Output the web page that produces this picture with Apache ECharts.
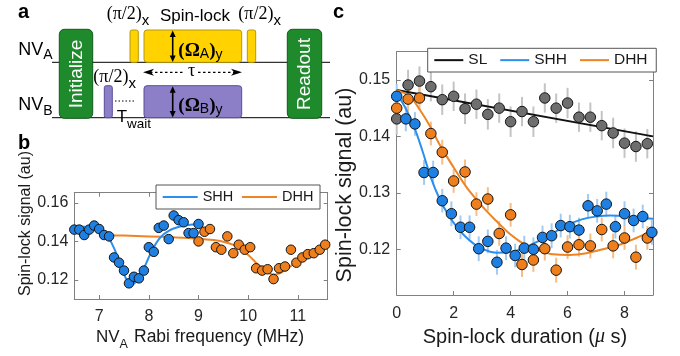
<!DOCTYPE html>
<html><head><meta charset="utf-8">
<script src="https://cdn.jsdelivr.net/npm/echarts@6/dist/echarts.min.js"></script>
<style>html,body{margin:0;padding:0;background:#fff}#chart{width:680px;height:356px}</style>
</head><body><div id="chart"></div>
<script>
// ---------- Panel b data ----------
const bShhX = [6.5,6.6,6.7,6.8,6.9,7.0,7.1,7.2,7.3,7.4,7.5,7.6,7.7,7.8,7.9,8.0,8.1,8.2,8.3,8.4,8.5,8.6,8.7,8.8,8.9,9.0];
const bShhY = [0.1461,0.1461,0.1433,0.1461,0.1482,0.1464,0.1433,0.1426,0.1317,0.1290,0.1249,0.1183,0.1217,0.1209,0.1249,0.1370,0.1346,0.1470,0.1482,0.1412,0.1534,0.1510,0.1499,0.1443,0.1443,0.1490];
const bDhhX = [9.00,9.12,9.23,9.35,9.46,9.58,9.70,9.81,9.93,10.04,10.16,10.28,10.39,10.51,10.62,10.74,10.86,10.97,11.09,11.20,11.32,11.44,11.55];
const bDhhY = [0.1400,0.1450,0.1464,0.1370,0.1357,0.1426,0.1339,0.1383,0.1357,0.1370,0.1261,0.1249,0.1256,0.1205,0.1261,0.1270,0.1357,0.1290,0.1317,0.1334,0.1339,0.1357,0.1383];
const bShhFitX = [6.5,6.7,6.9,7.0,7.1,7.2,7.3,7.4,7.5,7.55,7.6,7.65,7.7,7.8,7.9,8.0,8.1,8.2,8.3,8.4,8.5,8.7,9.0];
const bShhFitY = [0.1478,0.1476,0.1470,0.1462,0.1446,0.1415,0.1365,0.1300,0.1232,0.1203,0.1184,0.1177,0.1181,0.1210,0.1260,0.1318,0.1370,0.1410,0.1437,0.1455,0.1467,0.1481,0.1490];
const bDhhFitX = [7.1,7.5,8.0,8.5,9.0,9.3,9.5,9.7,9.9,10.0,10.1,10.2,10.3,10.4,10.5,10.6,10.7,10.8,10.9,11.0,11.2,11.4,11.6];
const bDhhFitY = [0.1432,0.1430,0.1426,0.1421,0.1414,0.1407,0.1398,0.1382,0.1350,0.1330,0.1305,0.1278,0.1255,0.1238,0.1229,0.1232,0.1245,0.1262,0.1280,0.1297,0.1328,0.1356,0.1382];
const bXTicks = [7,8,9,10,11];
const bYTicks = [0.12,0.14,0.16];

// ---------- Panel c data ----------
const cSlX = [0,0.4,0.8,1.2,1.6,2.0,2.4,2.8,3.2,3.6,4.0,4.4,4.8,5.2,5.6,6.0,6.4,6.8,7.2,7.6,8.0,8.4,8.8];
const cSlY = [0.1431,0.1491,0.1498,0.1488,0.1465,0.1471,0.1449,0.1457,0.1439,0.1450,0.1426,0.1444,0.1426,0.1468,0.1450,0.1459,0.1434,0.1434,0.1419,0.1406,0.1388,0.1382,0.1387];
const cSlErr = [0.0028,0.0027,0.0026,0.0026,0.0027,0.0026,0.0027,0.0026,0.0027,0.0026,0.0027,0.0026,0.0027,0.0026,0.0026,0.0027,0.0026,0.0026,0.0026,0.0027,0.0026,0.0027,0.0026];
const cShhX = [0,0.32,0.64,0.96,1.28,1.60,1.92,2.24,2.56,2.88,3.20,3.52,3.84,4.16,4.48,4.80,5.12,5.44,5.76,6.08,6.40,6.72,7.04,7.36,7.68,8.00,8.32,8.64,8.96];
const cShhY = [0.1471,0.1431,0.1422,0.1336,0.1336,0.1286,0.1263,0.1239,0.1239,0.1201,0.1214,0.1177,0.1202,0.1189,0.1202,0.1200,0.1221,0.1224,0.1242,0.1240,0.1234,0.1277,0.1268,0.1280,0.1240,0.1263,0.1251,0.1258,0.1230];
const cShhErr = [0.0022,0.0022,0.0021,0.0022,0.0021,0.0021,0.0022,0.0021,0.0021,0.0022,0.0021,0.0022,0.0021,0.0021,0.0022,0.0021,0.0021,0.0022,0.0021,0.0021,0.0022,0.0021,0.0021,0.0022,0.0021,0.0022,0.0021,0.0021,0.0022];
const cDhhX = [0,0.4,0.8,1.2,1.6,2.0,2.4,2.8,3.2,3.6,4.0,4.4,4.8,5.2,5.6,6.0,6.4,6.8,7.2,7.6,8.0,8.4,8.8];
const cDhhY = [0.1450,0.1466,0.1468,0.1405,0.1372,0.1321,0.1337,0.1280,0.1289,0.1228,0.1261,0.1173,0.1181,0.1201,0.1163,0.1204,0.1208,0.1206,0.1235,0.1206,0.1220,0.1186,0.1220];
const cDhhErr = [0.0021,0.0022,0.0021,0.0021,0.0022,0.0021,0.0022,0.0021,0.0021,0.0022,0.0021,0.0022,0.0021,0.0021,0.0022,0.0021,0.0021,0.0022,0.0021,0.0022,0.0021,0.0022,0.0021];
const cSlFitX = [0,9];
const cSlFitY = [0.1482,0.1400];
const cShhFitX = [0,0.3,0.6,0.9,1.2,1.5,1.8,2.1,2.4,2.7,3.0,3.5,4.0,4.5,5.0,5.5,6.0,6.5,7.0,7.5,8.0,8.5,9.0];
const cShhFitY = [0.1475,0.1451,0.1418,0.1375,0.1327,0.1290,0.1262,0.1240,0.1223,0.1210,0.1201,0.1194,0.1195,0.1203,0.1215,0.1229,0.1243,0.1253,0.1258,0.1260,0.1259,0.1256,0.1254];
const cDhhFitX = [0,0.47,0.8,1.17,1.5,1.75,2.0,2.34,2.57,2.9,3.15,3.5,3.74,4.0,4.32,4.6,4.91,5.2,5.49,6.07,6.66,7.24,7.83,8.41,9.0];
const cDhhFitY = [0.1482,0.1470,0.1448,0.1418,0.1386,0.1365,0.1345,0.1318,0.1302,0.1282,0.1268,0.1250,0.1238,0.1226,0.1214,0.1206,0.1199,0.1195,0.1191,0.1190,0.1193,0.1200,0.1208,0.1220,0.1233];
const cXTicks = [0,2,4,6,8];
const cYTicks = [0.12,0.13,0.14,0.15];

// ---------- helpers ----------
const SANS = '"Liberation Sans", Arial, Helvetica, sans-serif';
const SERIF = '"Liberation Serif", "Times New Roman", serif';
const zip = (xs, ys) => xs.map((x, i) => [x, ys[i]]);
const mctx = document.createElement('canvas').getContext('2d');
function fontStr(o){ return (o.italic?'italic ':'') + (o.bold?'bold ':'') + o.size + 'px ' + (o.family||SANS); }
function tw(text, o){ mctx.font = fontStr(o); return mctx.measureText(text).width; }
function T(text, x, y, o){
  return {type:'text', x:x, y:y, rotation:o.rot||0, z:100, silent:true,
    style:{text:text, fill:o.color||'#000', font:fontStr(o),
      align:o.align||'left', verticalAlign:'middle', textAlign:o.align||'left', textVerticalAlign:'middle'}};
}
function run(x, y, parts){
  const out=[]; let cx=x;
  parts.forEach(p=>{ out.push(T(p.t, cx, y+(p.dy||0), p)); cx += tw(p.t, p); });
  return out;
}
function runWidth(parts){ return parts.reduce((s,p)=>s+tw(p.t,p),0); }
function rect(x,y,w,h,r,fill,stroke){
  return {type:'rect', shape:{x:x,y:y,width:w,height:h,r:r}, z:50, silent:true, style:{fill:fill, stroke:stroke, lineWidth:1}};
}
function line(x1,y1,x2,y2,o){
  return {type:'line', shape:{x1:x1,y1:y1,x2:x2,y2:y2}, z:o.z||40, silent:true,
    style:{stroke:o.color||'#000', lineWidth:o.w||1, lineDash:o.dash||null}};
}
function poly(pts){ return {type:'polygon', shape:{points:pts}, z:60, silent:true, style:{fill:'#000'}}; }
function vArrow(x, y1, y2){
  return [line(x, y1+5, x, y2-5, {w:1.6, z:60}),
    poly([[x,y1],[x-3,y1+6.5],[x+3,y1+6.5]]),
    poly([[x,y2],[x-3,y2-6.5],[x+3,y2-6.5]])];
}

// ---------- Panel a schematic ----------
const YEL='#FFD200', YELB='#B8980A', PUR='#8C7FC8', PURB='#5A4E98', GRN='#1E8A2C', GRNB='#0F5A1A';
const g = [];
g.push(line(52, 62.3, 330, 62.3, {z:30}));
g.push(line(52, 117.7, 330, 117.7, {z:30}));
g.push(rect(59.3, 29.3, 33.4, 89, 5, GRN, GRNB));
g.push(rect(287.3, 29.3, 34.4, 89, 5, GRN, GRNB));
g.push(T('Initialize', 76.3, 74, {size:19, color:'#fff', align:'center', rot:Math.PI/2}));
g.push(T('Readout', 304.5, 74, {size:19, color:'#fff', align:'center', rot:Math.PI/2}));
g.push(rect(130, 30, 8.3, 32.3, 2, YEL, YELB));
g.push(rect(144, 30, 97.7, 32.3, 3, YEL, YELB));
g.push(rect(247.3, 30, 8.4, 32.3, 2, YEL, YELB));
g.push(rect(104.3, 85.7, 8, 32, 2, PUR, PURB));
g.push(rect(144, 85.7, 97.7, 32, 3, PUR, PURB));
g.push(...vArrow(172.7, 30.5, 62));
g.push(...vArrow(172.7, 86.2, 117.4));
g.push(...run(178.3, 50.8, [
  {t:'(', size:19, bold:true, family:SERIF},{t:'Ω', size:19, bold:true, family:SERIF},
  {t:'A', size:14, dy:3}, {t:')', size:19, bold:true, family:SERIF}, {t:'y', size:14, dy:4}]));
g.push(...run(178.3, 106, [
  {t:'(', size:19, bold:true, family:SERIF},{t:'Ω', size:19, bold:true, family:SERIF},
  {t:'B', size:14, dy:3}, {t:')', size:19, bold:true, family:SERIF}, {t:'y', size:14, dy:4}]));
const piX = (x,y)=>run(x, y, [{t:'(π/2)', size:18, family:SERIF},{t:'x', size:15, dy:6.5}]);
g.push(...piX(106.7, 14));
g.push(...piX(238.3, 14));
g.push(T('Spin-lock', 160, 16.5, {size:17}));
g.push(...piX(93.3, 77.5));
g.push(line(150, 72.3, 185, 72.3, {dash:[2.5,2.5], w:1.2, z:60}));
g.push(line(198, 72.3, 235, 72.3, {dash:[2.5,2.5], w:1.2, z:60}));
g.push(poly([[143,72.3],[154,68.8],[151,72.3],[154,75.8]]));
g.push(poly([[242,72.3],[231,68.8],[234,72.3],[231,75.8]]));
g.push(T('τ', 191.5, 71.5, {size:18, family:SERIF, align:'center'}));
g.push(line(115, 101, 135, 101, {dash:[1.5,2], w:1.2, z:60}));
g.push(...run(116.7, 117.5, [{t:'T', size:17},{t:'wait', size:13.5, dy:6.5}]));
g.push(...run(18.3, 49.7, [{t:'NV', size:18},{t:'A', size:14, dy:5.5}]));
g.push(...run(18.3, 105, [{t:'NV', size:18},{t:'B', size:14, dy:6.5}]));
g.push(T('a', 18, 12, {size:20, bold:true}));
g.push(T('b', 18, 143, {size:20, bold:true}));
g.push(T('c', 333, 12, {size:20, bold:true}));
g.push(T('Spin-lock signal (au)', 26, 223.5, {size:16, align:'center', rot:Math.PI/2, color:'#1a1a1a'}));
g.push(T('Spin-lock signal (au)', 345, 185, {size:21.5, align:'center', rot:Math.PI/2, color:'#1a1a1a'}));
g.push(...run(96, 337.5, [{t:'NV', size:17, color:'#1a1a1a'},{t:'A', size:12.5, dy:7, color:'#1a1a1a'}]));
g.push(T('Rabi frequency (MHz)', 134, 337.5, {size:17.5, color:'#1a1a1a'}));
const cxParts = [{t:'Spin-lock duration (', size:20, color:'#1a1a1a'},{t:'μ', size:20, italic:true, family:SERIF, color:'#1a1a1a'},{t:' s)', size:20, color:'#1a1a1a'}];
g.push(...run(525 - runWidth(cxParts)/2, 337, cxParts));

// ---------- axes ----------
const AX = '#808080', LBL = '#262626';
function ax(grid, min, max, ticks, pos, labels, margin){
  return {type:'value', gridIndex:grid, min:min, max:max, position:pos,
    axisLine:{show:true, onZero:false, lineStyle:{color:AX, width:1}},
    axisTick:{show:true, inside:true, length:4, customValues:ticks, lineStyle:{color:AX}},
    axisLabel:{show:labels, customValues:ticks, margin:margin, color:LBL, fontSize:16, fontFamily:SANS},
    splitLine:{show:false}};
}

const BLUE='#1F80E4', BLUEL='#2E8EEC', ORG='#EE7F1C', ORGL='#EE8424', GRY='#6E6E6E';
function scatter(name, xs, ys, color, xi, yi, size){
  return {type:'scatter', name:name, xAxisIndex:xi, yAxisIndex:yi, data:zip(xs,ys), symbolSize:size, z:5,
    itemStyle:{color:color, borderColor:'#151515', borderWidth:1, opacity:1}, emphasis:{disabled:true}};
}
function fit(name, xs, ys, color, xi, yi, smooth){
  return {type:'line', name:name, xAxisIndex:xi, yAxisIndex:yi, data:zip(xs,ys), symbol:'none', showSymbol:false,
    smooth:smooth, z:4, lineStyle:{color:color, width:2}, itemStyle:{color:color}, emphasis:{disabled:true}};
}
function errs(xs, ys, es, color, xi, yi){
  return {type:'custom', xAxisIndex:xi, yAxisIndex:yi, z:2, silent:true,
    data: xs.map((x,i)=>[x, ys[i]-es[i], ys[i]+es[i]]), encode:{x:0, y:[1,2]},
    renderItem:(params, api)=>{
      const p1 = api.coord([api.value(0), api.value(1)]);
      const p2 = api.coord([api.value(0), api.value(2)]);
      return {type:'line', shape:{x1:p1[0], y1:p1[1], x2:p2[0], y2:p2[1]}, style:{stroke:color, lineWidth:2}};
    }};
}
const hideSym = {opacity:0, color:'transparent', borderColor:'transparent', borderWidth:0};

const option = {
  animation:false,
  backgroundColor:'#fff',
  grid:[
    {left:74.3, top:192.7, width:253.4, height:106.3},
    {left:396.7, top:51.7, width:256.3, height:243.3}
  ],
  xAxis:[
    ax(0, 6.5, 11.6, bXTicks, 'bottom', true, 10),
    ax(0, 6.5, 11.6, bXTicks, 'top', false, 8),
    ax(1, 0, 9, cXTicks, 'bottom', true, 11),
    ax(1, 0, 9, cXTicks, 'top', false, 8)
  ],
  yAxis:[
    ax(0, 0.1102, 0.1652, bYTicks, 'left', true, 6),
    ax(0, 0.1102, 0.1652, bYTicks, 'right', false, 6),
    ax(1, 0.1119, 0.155, cYTicks, 'left', true, 6.5),
    ax(1, 0.1119, 0.155, cYTicks, 'right', false, 6)
  ],
  legend:[
    {data:['SHH','DHH'], left:156, top:185, orient:'horizontal', itemWidth:35, itemHeight:16, itemGap:7.7,
     padding:[4,6.6,4,5.7], borderColor:'#555', borderWidth:1, backgroundColor:'#fff', borderRadius:0,
     itemStyle:hideSym,
     textStyle:{fontSize:14.5, fontFamily:SANS, color:'#1a1a1a', lineHeight:16}, selectedMode:false, z:10},
    {data:['SL ','SHH ','DHH '], formatter:n=>n.trim(), left:427.7, top:48.3, orient:'horizontal', itemWidth:29, itemHeight:15, itemGap:12,
     padding:[3.85,8.7,3.85,5.6], borderColor:'#555', borderWidth:1, backgroundColor:'#fff', borderRadius:0,
     itemStyle:hideSym,
     textStyle:{fontSize:15.5, fontFamily:SANS, color:'#1a1a1a', lineHeight:15}, selectedMode:false, z:10}
  ],
  graphic:{elements:g},
  series:[
    fit('DHH', bDhhFitX, bDhhFitY, ORGL, 0, 0, 0.4),
    fit('SHH', bShhFitX, bShhFitY, BLUEL, 0, 0, 0.4),
    scatter('SHH data b', bShhX, bShhY, BLUE, 0, 0, 9.5),
    scatter('DHH data b', bDhhX, bDhhY, ORG, 0, 0, 9.5),
    errs(cSlX, cSlY, cSlErr, '#C4C4C4', 2, 2),
    errs(cShhX, cShhY, cShhErr, '#A3CBF2', 2, 2),
    errs(cDhhX, cDhhY, cDhhErr, '#F5BE88', 2, 2),
    fit('SL ', cSlFitX, cSlFitY, '#111111', 2, 2, false),
    fit('SHH ', cShhFitX, cShhFitY, BLUEL, 2, 2, 0.4),
    fit('DHH ', cDhhFitX, cDhhFitY, ORGL, 2, 2, 0.4),
    scatter('SL data c', cSlX, cSlY, GRY, 2, 2, 10.5),
    scatter('DHH data c', cDhhX, cDhhY, ORG, 2, 2, 10.5),
    scatter('SHH data c', cShhX, cShhY, BLUE, 2, 2, 10.5)
  ]
};
const chart = echarts.init(document.getElementById('chart'), null, {renderer:'canvas'});
chart.setOption(option);
</script>
</body></html>
